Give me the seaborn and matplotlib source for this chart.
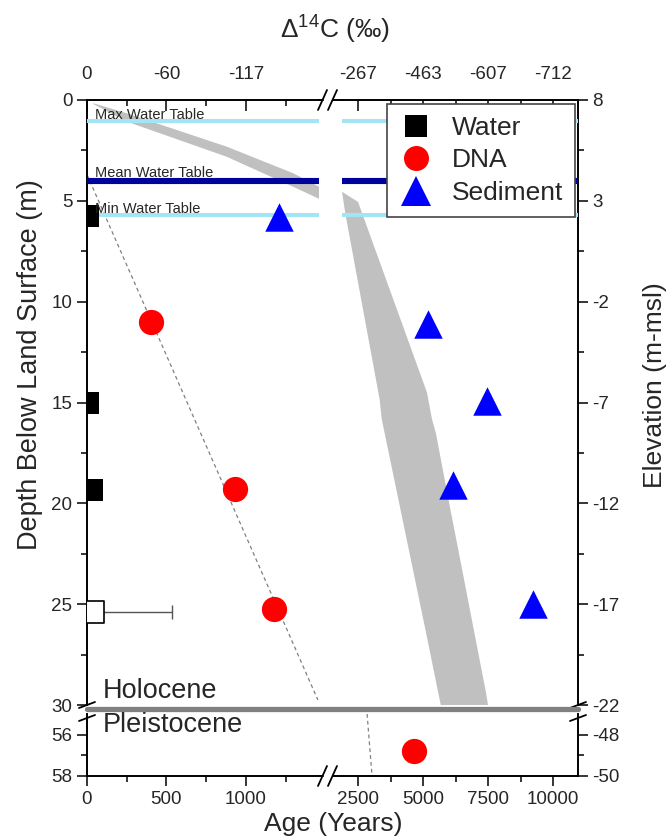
import matplotlib
matplotlib.use("Agg")
import numpy as np
import seaborn as sns
from matplotlib import pyplot as plt
from matplotlib.lines import Line2D
from matplotlib.ticker import FixedLocator, FixedFormatter, FuncFormatter

# ---- data (age in years, depth below land surface in m) ----
water_age = [5, 5, 30]
water_depth = [5.75, 15.0, 19.35]
water_open_age = [40]
water_open_depth = [25.4]
water_open_err = [[40], [495]]

dna_age = [401, 931, 1176, 4654]
dna_depth = [11.0, 19.3, 25.25, 56.8]

sed_age = [1208, 5192, 7462, 6154, 9231]
sed_depth = [5.8, 11.1, 14.95, 19.1, 24.98]

# modelled age envelope (grey band)
band_left_age = [40, 250, 878, 1297, 1460, 1460, 1297, 878, 250, 40]
band_left_depth = [0.16, 0.66, 2.31, 3.63, 4.3, 4.9, 4.3, 2.81, 1.07, 0.2]
band_right_age = [1885, 2008, 3333, 3409, 5114, 5682, 7500, 7424, 6477, 6098,
                  5492, 5341, 5152, 2500]
band_right_depth = [4.55, 5.6, 14.85, 15.8, 26.4, 30.0, 30.0, 29.4, 23.1, 20.6,
                    16.5, 15.8, 14.5, 5.05]

# regression lines (dashed)
fit_upper_age = [0, 1453]
fit_upper_depth = [3.7, 29.75]
fit_lower_age = [2850, 3040]
fit_lower_depth = [55.0, 58.0]

# water table depths
wt_names = ["Max Water Table", "Mean Water Table", "Min Water Table"]
wt_depth = [1.04, 4.0, 5.72]
wt_label_depth = [0.93, 3.8, 5.6]

# axis ticks
age_ticks_left = [0, 500, 1000]
age_ticks_right = [2500, 5000, 7500, 10000]
d14c_left = ["0", "-60", "-117"]
d14c_right = ["-267", "-463", "-607", "-712"]
surface_elev = 8

sns.set_style("ticks")
plt.rcParams["font.family"] = ["Liberation Sans", "DejaVu Sans"]
plt.rcParams["mathtext.default"] = "regular"

W, H = 669, 840
fig = plt.figure(figsize=(W / 100, H / 100), dpi=100)


def box(x0, x1, y0, y1):
    return [x0 / W, 1 - y1 / H, (x1 - x0) / W, (y1 - y0) / H]


def pline(xs, ys, **kw):
    fig.add_artist(Line2D([x / W for x in xs], [1 - y / H for y in ys],
                          transform=fig.transFigure, **kw))


XL0, XL1, XR0, XR1 = 87, 319, 342, 578
YU0, YU1, YB0, YB1 = 100, 705, 714, 776

ax_ul = fig.add_axes(box(XL0, XL1, YU0, YU1))
ax_ur = fig.add_axes(box(XR0, XR1, YU0, YU1))
ax_ll = fig.add_axes(box(XL0, XL1, YB0, YB1))
ax_lr = fig.add_axes(box(XR0, XR1, YB0, YB1))
axes = [ax_ul, ax_ur, ax_ll, ax_lr]

for ax in axes:
    sns.scatterplot(x=water_age, y=water_depth, marker="s", s=230, color="black",
                    linewidth=0, ax=ax, zorder=6, legend=False)
    sns.scatterplot(x=dna_age, y=dna_depth, marker="o", s=330, color="red",
                    linewidth=0, ax=ax, zorder=6, legend=False)
    sns.scatterplot(x=sed_age, y=sed_depth, marker="^", s=420, color="blue",
                    linewidth=0, ax=ax, zorder=6, legend=False)

ax_ul.errorbar(water_open_age, water_open_depth, xerr=water_open_err, fmt="none",
               ecolor="#555555", elinewidth=1, capsize=5, capthick=1, zorder=5)
sns.scatterplot(x=water_open_age, y=water_open_depth, marker="s", s=230,
                color="white", edgecolor="black", linewidth=1.2, ax=ax_ul,
                zorder=6, legend=False)

ax_ul.fill(band_left_age, band_left_depth, color="#c0c0c0", lw=0, zorder=1)
ax_ur.fill(band_right_age, band_right_depth, color="#c0c0c0", lw=0, zorder=1)

for ax in (ax_ul, ax_ur):
    ax.axhline(wt_depth[0], color="#a3e4f5", lw=2.9, zorder=3)
    ax.axhline(wt_depth[1], color="#00009c", lw=4.4, zorder=3)
    ax.axhline(wt_depth[2], color="#a3e4f5", lw=2.9, zorder=3)

for name, d in zip(wt_names, wt_label_depth):
    ax_ul.text(50, d, name, fontsize=10.5, va="baseline", zorder=7)

ax_ul.plot(fit_upper_age, fit_upper_depth, color="#808080", lw=0.9,
           dashes=(3, 2.5), zorder=2)
ax_lr.plot(fit_lower_age, fit_lower_depth, color="#808080", lw=0.9,
           dashes=(3, 2.5), zorder=2)

# limits
for ax in (ax_ul, ax_ll):
    ax.set_xlim(0, 1460)
for ax in (ax_ur, ax_lr):
    ax.set_xlim(1885, 10960)
for ax in (ax_ul, ax_ur):
    ax.set_ylim(30, 0)
for ax in (ax_ll, ax_lr):
    ax.set_ylim(58, 55)

# spines
ax_ul.spines[["right", "bottom"]].set_visible(False)
ax_ur.spines[["left", "bottom"]].set_visible(False)
ax_ll.spines[["right", "top"]].set_visible(False)
ax_lr.spines[["left", "top"]].set_visible(False)
for ax in axes:
    ax.set(xlabel="", ylabel="")
    ax.patch.set_alpha(0)
    for sp in ax.spines.values():
        sp.set_linewidth(1.4)
        sp.set_color("black")

tick_kw = dict(width=1.1, labelsize=13.5, color="black")

# x ticks
for ax, maj, mnr, lab in [(ax_ul, age_ticks_left, [250, 750, 1250], d14c_left),
                          (ax_ur, age_ticks_right, [3750, 6250, 8750], d14c_right)]:
    ax.xaxis.set_major_locator(FixedLocator(maj))
    ax.xaxis.set_minor_locator(FixedLocator(mnr))
    ax.xaxis.set_major_formatter(FixedFormatter(lab))
    ax.tick_params(axis="x", which="both", top=True, bottom=False,
                   labeltop=True, labelbottom=False, direction="in", **tick_kw)
    ax.tick_params(axis="x", which="major", length=8, pad=12)
    ax.tick_params(axis="x", which="minor", length=4.5)

for ax, maj, mnr in [(ax_ll, age_ticks_left, [250, 750, 1250]),
                     (ax_lr, age_ticks_right, [3750, 6250, 8750])]:
    ax.xaxis.set_major_locator(FixedLocator(maj))
    ax.xaxis.set_minor_locator(FixedLocator(mnr))
    ax.tick_params(axis="x", which="both", direction="out", **tick_kw)
    ax.tick_params(axis="x", which="major", length=7.5, pad=3)
    ax.tick_params(axis="x", which="minor", length=4)

# y ticks
for ax, maj, mnr in [(ax_ul, list(range(0, 31, 5)), list(np.arange(2.5, 30, 5))),
                     (ax_ur, list(range(0, 31, 5)), list(np.arange(2.5, 30, 5))),
                     (ax_ll, [56, 58], [57]),
                     (ax_lr, [56, 58], [57])]:
    ax.yaxis.set_major_locator(FixedLocator(maj))
    ax.yaxis.set_minor_locator(FixedLocator(mnr))
    ax.tick_params(axis="y", which="both", direction="out", **tick_kw)
    ax.tick_params(axis="y", which="major", length=7.5, pad=3)
    ax.tick_params(axis="y", which="minor", length=4)

for ax in (ax_ur, ax_lr):
    ax.yaxis.tick_right()
    ax.yaxis.set_major_formatter(FuncFormatter(lambda v, p: f"{surface_elev - v:g}"))
    ax.tick_params(axis="y", which="both", left=False, right=True,
                   labelleft=False, labelright=True)
for ax in (ax_ul, ax_ll):
    ax.tick_params(axis="y", which="both", right=False)
    ax.yaxis.set_major_formatter(FuncFormatter(lambda v, p: f"{v:g}"))

# broken x-axis connectors and // marks
for y in (YU0, YB1):
    pline([XL1, 322.5], [y, y], color="black", lw=1.4)
    pline([332.5, XR0], [y, y], color="black", lw=1.4)
    pline([318, 327], [y + 10, y - 10], color="black", lw=1.3)
    pline([328, 337], [y + 10, y - 10], color="black", lw=1.3)

# broken y-axis marks
for x in (XL0, XR1):
    pline([x - 8, x + 8], [708, 702], color="black", lw=1.3)
    pline([x - 8, x + 8], [721, 715], color="black", lw=1.3)

# Holocene / Pleistocene boundary
pline([XL0, XR1], [709, 709], color="#808080", lw=3.8, solid_capstyle="round")
fig.text(103 / W, 1 - 691 / H, "Holocene", fontsize=19.5, va="center")
fig.text(103 / W, 1 - 725 / H, "Pleistocene", fontsize=19.5, va="center")

# legend
handles = [
    Line2D([], [], ls="none", marker="s", ms=15.5, color="black", mew=0),
    Line2D([], [], ls="none", marker="o", ms=18, color="red", mew=0),
    Line2D([], [], ls="none", marker="^", ms=21, color="blue", mew=0),
]
leg = fig.legend(handles, ["Water", "DNA", "Sediment"], loc="upper left",
                 bbox_to_anchor=(387 / W, 1 - 104 / H), fontsize=19,
                 frameon=True, fancybox=False, framealpha=1, edgecolor="#444444",
                 borderpad=0.45, labelspacing=0.32, handlelength=1.3,
                 handletextpad=0.7, borderaxespad=0)
leg.get_frame().set_linewidth(1.2)
leg.set_zorder(20)

# axis titles
fig.text(335 / W, 1 - 30 / H, "Δ$^{14}$C (‰)", fontsize=19, ha="center", va="center")
fig.text(333 / W, 1 - 824 / H, "Age (Years)", fontsize=19, ha="center", va="center")
fig.text(30 / W, 1 - 365 / H, "Depth Below Land Surface (m)", fontsize=19.5,
         rotation=90, ha="center", va="center")
fig.text(655 / W, 1 - 385 / H, "Elevation (m-msl)", fontsize=19,
         rotation=90, ha="center", va="center")

fig.savefig("out.png", dpi=100)
